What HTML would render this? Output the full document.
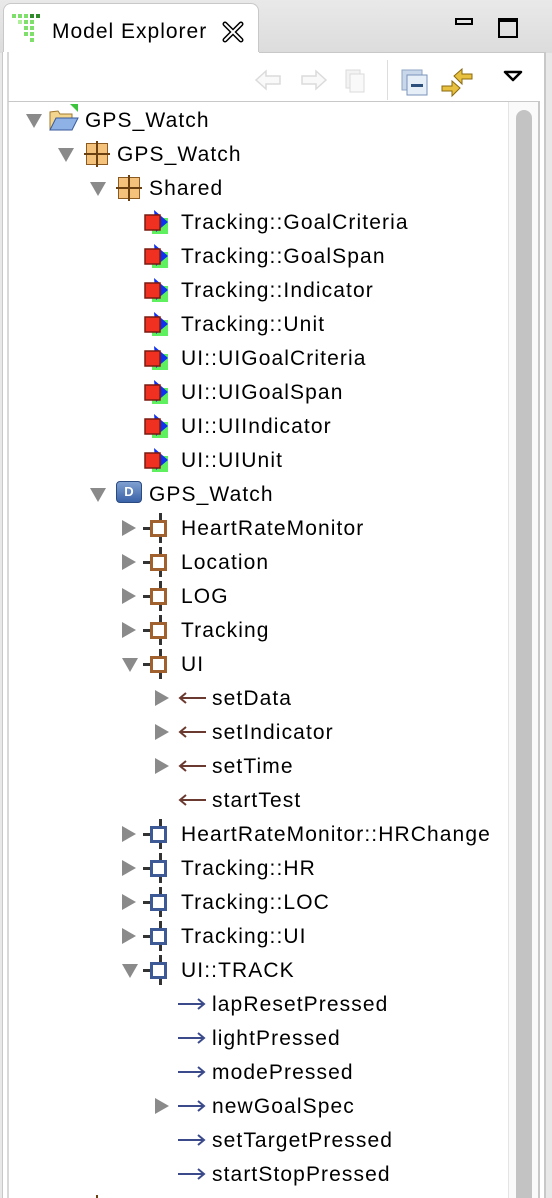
<!DOCTYPE html>
<html><head><meta charset="utf-8"><style>
*{margin:0;padding:0;box-sizing:border-box}
html{width:552px;height:1198px;overflow:hidden}
body{width:552px;height:1198px;background:#e8e8e8;position:relative;overflow:hidden;font-family:"Liberation Sans",Helvetica,sans-serif;color:#000}
.abs{position:absolute}
.t{position:absolute;font-size:21px;letter-spacing:1.1px;line-height:34px;height:34px;white-space:nowrap;margin-top:1px}
.tri{position:absolute;width:0;height:0}
.down{border-left:8px solid transparent;border-right:8px solid transparent;border-top:14px solid #8a8a8a}
.right{border-top:8px solid transparent;border-bottom:8px solid transparent;border-left:14px solid #8a8a8a}
.pkg{position:absolute;width:22px;height:22px;background:#f4c27a;border:1px solid #8a5a20}
.pkg:before{content:"";position:absolute;left:9px;top:-3px;width:2px;height:26px;background:#6a4010}
.pkg:after{content:"";position:absolute;top:9px;left:-3px;height:2px;width:26px;background:#6a4010}
.dt{position:absolute;width:26px;height:26px}
.comp{position:absolute;width:30px;height:30px}
.comp .v{position:absolute;left:16px;top:0;width:3px;height:30px;background:#333}
.comp .h{position:absolute;left:0;top:14px;width:8px;height:3px;background:#333}
.comp .b{position:absolute;left:7px;top:7px;width:17px;height:17px;border:3px solid #a0612e;background:#fff}
.comp.blue .b{border-color:#3e5a96}
.arr{position:absolute;width:28px;height:12px}
</style></head><body>
<div class="abs" style="left:0;top:0;width:552px;height:53px;background:linear-gradient(#e9e9e9,#dcdcdc)"></div>
<div class="abs" style="left:3px;top:3px;width:256px;height:52px;background:#fff;border:1px solid #c8c8c8;border-bottom:none;border-radius:8px 8px 0 0"></div>
<div class="abs" style="left:2px;top:52px;width:544px;height:1146px;background:#fff;border-left:1px solid #c8c8c8;border-right:1px solid #c8c8c8"></div>
<div class="abs" style="left:259px;top:52px;width:287px;height:1px;background:#c8c8c8"></div>
<div class="abs" style="left:7px;top:52px;width:2px;height:1146px;background:#d8d8d8"></div>
<svg class="abs" style="left:12px;top:14px" width="32" height="34">
<g fill="#7ee06a"><rect x="0" y="0" width="4" height="4"/><rect x="6" y="0" width="4" height="4"/><rect x="12" y="0" width="4" height="4"/><rect x="12" y="6" width="4" height="4"/><rect x="18" y="6" width="4" height="4"/><rect x="12" y="12" width="4" height="4"/><rect x="18" y="12" width="4" height="4"/><rect x="18" y="18" width="4" height="4"/><rect x="12" y="18" width="4" height="4"/><rect x="18" y="24" width="4" height="4"/><rect x="6" y="6" width="4" height="4" fill="#aef09a"/></g>
<g fill="#2f8a2a"><rect x="18" y="0" width="4" height="4"/><rect x="24" y="0" width="4" height="4"/></g>
</svg>
<div class="t" style="left:52px;top:14px;letter-spacing:1px">Model Explorer</div>
<svg class="abs" style="left:222px;top:21px" width="22" height="22"><path d="M3 3 L19 19 M19 3 L3 19" stroke="#000" stroke-width="5" stroke-linecap="round"/><path d="M3 3 L19 19 M19 3 L3 19" stroke="#fff" stroke-width="2" stroke-linecap="round"/></svg>
<div class="abs" style="left:455px;top:18px;width:18px;height:7px;border:2px solid #000"></div>
<div class="abs" style="left:498px;top:18px;width:20px;height:20px;border:2px solid #000;border-top-width:4px"></div>
<svg class="abs" style="left:252px;top:66px" width="120" height="30" opacity="0.35">
<path d="M4 14 L14 5 L14 10 L28 10 L28 18 L14 18 L14 23 Z" fill="#eee" stroke="#999" stroke-width="1.5"/>
<path d="M74 14 L64 5 L64 10 L50 10 L50 18 L64 18 L64 23 Z" fill="#eee" stroke="#999" stroke-width="1.5"/>
<rect x="94" y="4" width="14" height="18" fill="#ddd" stroke="#999"/><rect x="98" y="8" width="14" height="18" fill="#eee" stroke="#999"/>
</svg>
<div class="abs" style="left:387px;top:60px;width:1px;height:40px;background:#ddd"></div>
<svg class="abs" style="left:400px;top:68px" width="30" height="28"><rect x="2" y="2" width="20" height="20" fill="#c9d7ea" stroke="#8ea6c6"/><rect x="7" y="7" width="20" height="20" fill="#e6eef8" stroke="#7893b8"/><rect x="11" y="16" width="12" height="3" fill="#2d4f7c"/></svg>
<svg class="abs" style="left:440px;top:66px" width="34" height="34"><path d="M14 10 L22 3 L22 8 L32 8 L32 13 L22 13 L22 18 Z" fill="#e8c040" stroke="#8a6a10"/><path d="M20 22 L12 15 L12 20 L2 20 L2 25 L12 25 L12 30 Z" fill="#e8c040" stroke="#8a6a10"/></svg>
<svg class="abs" style="left:503px;top:70px" width="20" height="12"><path d="M2 2 L18 2 L10 10 Z" fill="#fff" stroke="#000" stroke-width="2.5" stroke-linejoin="round"/></svg>
<div class="abs" style="left:8px;top:101px;width:532px;height:1097px;border-top:1px solid #c8c8c8;border-right:1px solid #c8c8c8"></div>
<div class="abs" style="left:508px;top:102px;width:31px;height:1096px;background:#fafafa;border-left:1px solid #e4e4e4"></div>
<div class="abs" style="left:516px;top:110px;width:16px;height:1088px;background:#c3c3c3;border-radius:8px 8px 0 0"></div>
<div class="abs" style="left:538px;top:102px;width:2px;height:1096px;background:#c8c8c8"></div>
<div class="abs" style="left:544px;top:52px;width:2px;height:1146px;background:#c8c8c8"></div>

<div class="tri down" style="left:26px;top:114px"></div>
<svg class="abs" style="left:48px;top:104px" width="32" height="30"><path d="M2 8 L2 26 L24 26 L24 10 L12 10 L10 7 Z" fill="#f2d58e" stroke="#a07a30"/><path d="M2 26 L8 14 L30 14 L24 26 Z" fill="#8fb2e6" stroke="#3a5a9a"/><path d="M22 0 L30 0 L30 8 Z" fill="#3cc43c"/></svg>
<div class="t" style="left:85px;top:103px">GPS_Watch</div>
<div class="tri down" style="left:58px;top:148px"></div>
<div class="pkg" style="left:86px;top:143px"></div>
<div class="t" style="left:117px;top:137px">GPS_Watch</div>
<div class="tri down" style="left:90px;top:182px"></div>
<div class="pkg" style="left:118px;top:177px"></div>
<div class="t" style="left:149px;top:171px">Shared</div>

<svg width="0" height="0" style="position:absolute"><defs><g id="dtg"><rect x="8" y="10" width="16" height="16" fill="#5ef05e"/><path d="M10 2 L24 14 L12 24 Z" fill="#1030f0"/><rect x="1" y="7" width="15" height="15" fill="#f03020" stroke="#7a1a10" stroke-width="1.5"/></g></defs></svg>
<svg class="dt" style="left:144px;top:208px"><use href="#dtg"/></svg><div class="t" style="left:181px;top:205px">Tracking::GoalCriteria</div>
<svg class="dt" style="left:144px;top:242px"><use href="#dtg"/></svg><div class="t" style="left:181px;top:239px">Tracking::GoalSpan</div>
<svg class="dt" style="left:144px;top:276px"><use href="#dtg"/></svg><div class="t" style="left:181px;top:273px">Tracking::Indicator</div>
<svg class="dt" style="left:144px;top:310px"><use href="#dtg"/></svg><div class="t" style="left:181px;top:307px">Tracking::Unit</div>
<svg class="dt" style="left:144px;top:344px"><use href="#dtg"/></svg><div class="t" style="left:181px;top:341px">UI::UIGoalCriteria</div>
<svg class="dt" style="left:144px;top:378px"><use href="#dtg"/></svg><div class="t" style="left:181px;top:375px">UI::UIGoalSpan</div>
<svg class="dt" style="left:144px;top:412px"><use href="#dtg"/></svg><div class="t" style="left:181px;top:409px">UI::UIIndicator</div>
<svg class="dt" style="left:144px;top:446px"><use href="#dtg"/></svg><div class="t" style="left:181px;top:443px">UI::UIUnit</div>

<div class="tri down" style="left:90px;top:488px"></div>
<div class="abs" style="left:116px;top:481px;width:26px;height:22px;border-radius:4px;background:linear-gradient(#7fa0d0,#3a62a8);border:1px solid #2a4a80;color:#fff;font-size:13px;font-weight:bold;text-align:center;line-height:20px">D</div>
<div class="t" style="left:149px;top:477px">GPS_Watch</div>

<div class="tri right" style="left:122px;top:520px"></div><div class="comp" style="left:143px;top:513px"><div class="v"></div><div class="h"></div><div class="b"></div></div><div class="t" style="left:181px;top:511px">HeartRateMonitor</div>
<div class="tri right" style="left:122px;top:554px"></div><div class="comp" style="left:143px;top:547px"><div class="v"></div><div class="h"></div><div class="b"></div></div><div class="t" style="left:181px;top:545px">Location</div>
<div class="tri right" style="left:122px;top:588px"></div><div class="comp" style="left:143px;top:581px"><div class="v"></div><div class="h"></div><div class="b"></div></div><div class="t" style="left:181px;top:579px">LOG</div>
<div class="tri right" style="left:122px;top:622px"></div><div class="comp" style="left:143px;top:615px"><div class="v"></div><div class="h"></div><div class="b"></div></div><div class="t" style="left:181px;top:613px">Tracking</div>
<div class="tri down" style="left:122px;top:658px"></div><div class="comp" style="left:143px;top:649px"><div class="v"></div><div class="h"></div><div class="b"></div></div><div class="t" style="left:181px;top:647px">UI</div>

<svg width="0" height="0" style="position:absolute"><defs>
<g id="la"><path d="M3 6 L28 6" stroke="#6a3a30" stroke-width="2"/><path d="M8 1 L2 6 L8 11" stroke="#6a3a30" stroke-width="2" fill="none"/></g>
<g id="ra"><path d="M0 6 L25 6" stroke="#3a4a8a" stroke-width="2"/><path d="M20 1 L26 6 L20 11" stroke="#3a4a8a" stroke-width="2" fill="none"/></g>
</defs></svg>
<div class="tri right" style="left:155px;top:690px"></div><svg class="arr" style="left:178px;top:692px"><use href="#la"/></svg><div class="t" style="left:212px;top:681px">setData</div>
<div class="tri right" style="left:155px;top:724px"></div><svg class="arr" style="left:178px;top:726px"><use href="#la"/></svg><div class="t" style="left:212px;top:715px">setIndicator</div>
<div class="tri right" style="left:155px;top:758px"></div><svg class="arr" style="left:178px;top:760px"><use href="#la"/></svg><div class="t" style="left:212px;top:749px">setTime</div>
<svg class="arr" style="left:178px;top:794px"><use href="#la"/></svg><div class="t" style="left:212px;top:783px">startTest</div>

<div class="tri right" style="left:122px;top:826px"></div><div class="comp blue" style="left:143px;top:819px"><div class="v"></div><div class="h"></div><div class="b"></div></div><div class="t" style="left:181px;top:817px">HeartRateMonitor::HRChange</div>
<div class="tri right" style="left:122px;top:860px"></div><div class="comp blue" style="left:143px;top:853px"><div class="v"></div><div class="h"></div><div class="b"></div></div><div class="t" style="left:181px;top:851px">Tracking::HR</div>
<div class="tri right" style="left:122px;top:894px"></div><div class="comp blue" style="left:143px;top:887px"><div class="v"></div><div class="h"></div><div class="b"></div></div><div class="t" style="left:181px;top:885px">Tracking::LOC</div>
<div class="tri right" style="left:122px;top:928px"></div><div class="comp blue" style="left:143px;top:921px"><div class="v"></div><div class="h"></div><div class="b"></div></div><div class="t" style="left:181px;top:919px">Tracking::UI</div>
<div class="tri down" style="left:122px;top:964px"></div><div class="comp blue" style="left:143px;top:955px"><div class="v"></div><div class="h"></div><div class="b"></div></div><div class="t" style="left:181px;top:953px">UI::TRACK</div>

<svg class="arr" style="left:178px;top:998px"><use href="#ra"/></svg><div class="t" style="left:212px;top:987px">lapResetPressed</div>
<svg class="arr" style="left:178px;top:1032px"><use href="#ra"/></svg><div class="t" style="left:212px;top:1021px">lightPressed</div>
<svg class="arr" style="left:178px;top:1066px"><use href="#ra"/></svg><div class="t" style="left:212px;top:1055px">modePressed</div>
<div class="tri right" style="left:155px;top:1098px"></div><svg class="arr" style="left:178px;top:1100px"><use href="#ra"/></svg><div class="t" style="left:212px;top:1089px">newGoalSpec</div>
<svg class="arr" style="left:178px;top:1134px"><use href="#ra"/></svg><div class="t" style="left:212px;top:1123px">setTargetPressed</div>
<svg class="arr" style="left:178px;top:1168px"><use href="#ra"/></svg><div class="t" style="left:212px;top:1157px">startStopPressed</div>
<div class="abs" style="left:96px;top:1195px;width:2px;height:3px;background:#6a4010"></div>
</body></html>
